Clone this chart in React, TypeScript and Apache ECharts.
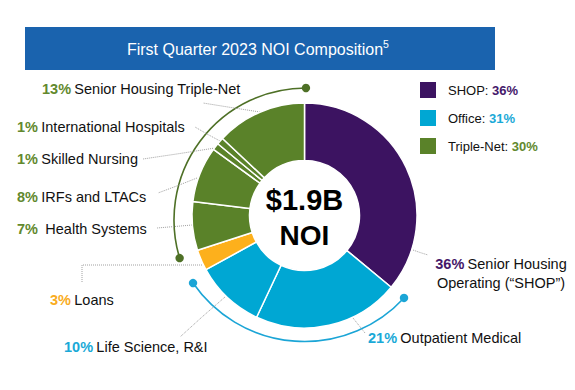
import React, { useEffect, useRef } from 'react';
import * as echarts from 'echarts';

// ---- data ----
const categories = [
  'Senior Housing\nOperating (“SHOP”)',
  'Outpatient Medical',
  'Life Science, R&I',
  'Loans',
  ' Health Systems',
  'IRFs and LTACs',
  'Skilled Nursing',
  'International Hospitals',
  'Senior Housing Triple-Net',
];
const values = [36, 21, 10, 3, 7, 8, 1, 1, 13];
const segmentGroup = ['shop', 'office', 'office', 'loans', 'tn', 'tn', 'tn', 'tn', 'tn'];

const legendNames = ['SHOP', 'Office', 'Triple-Net'];
const legendValues = [36, 31, 30];
const legendKeys = ['shop', 'office', 'tn'];

const centerLines = ['$1.9B', 'NOI'];
const titleText = 'First Quarter 2023 NOI Composition';
const titleNote = '5';

// ---- styles / layout ----
const FILL: Record<string, string> = {
  shop: '#3C1361',
  office: '#00A7D3',
  loans: '#FDB01C',
  tn: '#5A8229',
};
const TEXTC: Record<string, string> = {
  shop: '#45186A',
  office: '#1AA9D7',
  loans: '#F9AC22',
  tn: '#62892E',
};
const FONT = '"Liberation Sans", Arial, sans-serif';
const CX = 304.5;
const CY = 215.5;

// label anchor and leader lines, per data index
const labelLayouts = [
  { x: 501, y: 273.5, align: 'center', line: [[413, 250], [420, 252.5], [428, 255]] },
  { x: 368, y: 338, align: 'left', line: [[353, 318], [359, 325.5], [365, 333]] },
  { x: 64, y: 347, align: 'left', line: [[225, 297], [202, 317], [180, 337]] },
  { x: 50, y: 300, align: 'left', line: [[202, 265], [82, 265], [82, 283]] },
  { x: 17, y: 229, align: 'left', line: [[192, 225], [175, 226.5], [157, 228]] },
  { x: 17, y: 197, align: 'left', line: [[197, 178], [178, 185.5], [158, 193]] },
  { x: 17, y: 159, align: 'left', line: [[215, 148], [180, 153.5], [143, 159]] },
  { x: 17, y: 127, align: 'left', line: [[220, 141], [207, 134], [195, 127]] },
  { x: 42, y: 89, align: 'left', line: [[260, 112], [231, 107.5], [203, 103]] },
];

export default function App() {
  const ref = useRef<HTMLDivElement>(null);

  useEffect(() => {
    if (!ref.current) return;
    const chart = echarts.init(ref.current, undefined, { renderer: 'svg' });

    const data = values.map((v, i) => ({
      value: v,
      name: categories[i],
      itemStyle: { color: FILL[segmentGroup[i]] },
      label: {
        formatter: () => {
          const lines = categories[i].split('\n');
          const key = 'p_' + segmentGroup[i];
          return lines
            .map((ln, k) => (k === 0 ? `{${key}|${v}%} {n|${ln}}` : `{n|${ln}}`))
            .join('\n');
        },
      },
    }));

    const rich: Record<string, any> = {
      n: { fontSize: 14.5, color: '#111111', fontFamily: FONT, lineHeight: 19 },
    };
    Object.keys(TEXTC).forEach((k) => {
      rich['p_' + k] = {
        fontSize: 14.5,
        fontWeight: 'bold',
        color: TEXTC[k],
        fontFamily: FONT,
        lineHeight: 19,
      };
    });

    // decorative brackets
    const arcs = [
      { cx: 306, cy: 220, r: 132, a0: 2.849, a1: 4.712, color: '#4E7026' },
      { cx: 304.5, cy: 206, r: 135.5, a0: 0.746, a1: 2.537, color: '#1BA5D6' },
    ];
    const arcEls: any[] = [];
    arcs.forEach((a) => {
      arcEls.push({
        type: 'arc',
        shape: { cx: a.cx, cy: a.cy, r: a.r, startAngle: a.a0, endAngle: a.a1, clockwise: true },
        style: { stroke: a.color, lineWidth: 1.6, fill: null },
        z: 1,
      });
      [a.a0, a.a1].forEach((ang) => {
        arcEls.push({
          type: 'circle',
          shape: { cx: a.cx + a.r * Math.cos(ang), cy: a.cy + a.r * Math.sin(ang), r: 4.2 },
          style: { fill: a.color },
          z: 2,
        });
      });
    });

    const legendEls: any[] = [];
    legendNames.forEach((nm, i) => {
      legendEls.push({
        type: 'rect',
        shape: { x: 420, y: 82 + 28 * i, width: 16, height: 16 },
        style: { fill: FILL[legendKeys[i]] },
      });
      legendEls.push({
        type: 'text',
        x: 448,
        y: 90 + 28 * i,
        style: {
          text: `{n|${nm}: }{v|${legendValues[i]}%}`,
          align: 'left',
          verticalAlign: 'middle',
          textAlign: 'left',
          textVerticalAlign: 'middle',
          rich: {
            n: { fontSize: 13, fontFamily: FONT, fill: '#111111', color: '#111111' },
            v: { fontSize: 13, fontFamily: FONT, fontWeight: 'bold', fill: TEXTC[legendKeys[i]], color: TEXTC[legendKeys[i]] },
          },
        },
      });
    });

    chart.setOption({
      animation: false,
      backgroundColor: '#ffffff',
      series: [
        {
          type: 'pie',
          center: [CX, CY],
          radius: [55, 112.5],
          startAngle: 90,
          clockwise: true,
          avoidLabelOverlap: false,
          silent: true,
          itemStyle: { borderColor: '#ffffff', borderWidth: 1.5 },
          label: {
            show: true,
            position: 'outside',
            rich,
          },
          labelLine: {
            show: true,
            lineStyle: { color: '#a0a0a0', width: 1, type: 'dotted' },
          },
          labelLayout: (params: any) => {
            const L = labelLayouts[params.dataIndex];
            return {
              x: L.x,
              y: L.y,
              align: L.align,
              verticalAlign: 'middle',
              labelLinePoints: L.line,
            };
          },
          data,
        },
      ],
      graphic: [
        {
          type: 'rect',
          shape: { x: 25, y: 27, width: 470, height: 43 },
          style: { fill: '#1A63AE' },
        },
        {
          type: 'text',
          x: 255,
          y: 49,
          style: {
            text: titleText,
            fill: '#ffffff',
            font: `16px ${FONT}`,
            align: 'center',
            verticalAlign: 'middle',
            textAlign: 'center',
            textVerticalAlign: 'middle',
          },
        },
        {
          type: 'text',
          x: 383,
          y: 44,
          style: {
            text: titleNote,
            fill: '#ffffff',
            font: `10.5px ${FONT}`,
            align: 'left',
            verticalAlign: 'middle',
            textAlign: 'left',
            textVerticalAlign: 'middle',
          },
        },
        ...legendEls,
        ...arcEls,
        {
          type: 'text',
          x: CX,
          y: 200,
          style: {
            text: centerLines[0],
            fill: '#000000',
            font: `bold 29px ${FONT}`,
            align: 'center',
            verticalAlign: 'middle',
            textAlign: 'center',
            textVerticalAlign: 'middle',
          },
          z: 10,
        },
        {
          type: 'text',
          x: CX,
          y: 235,
          style: {
            text: centerLines[1],
            fill: '#000000',
            font: `bold 28px ${FONT}`,
            align: 'center',
            verticalAlign: 'middle',
            textAlign: 'center',
            textVerticalAlign: 'middle',
          },
          z: 10,
        },
      ],
    });

    return () => chart.dispose();
  }, []);

  return (
    <div
      ref={ref}
      style={{ position: 'absolute', left: 0, top: 0, width: 575, height: 390 }}
    />
  );
}
